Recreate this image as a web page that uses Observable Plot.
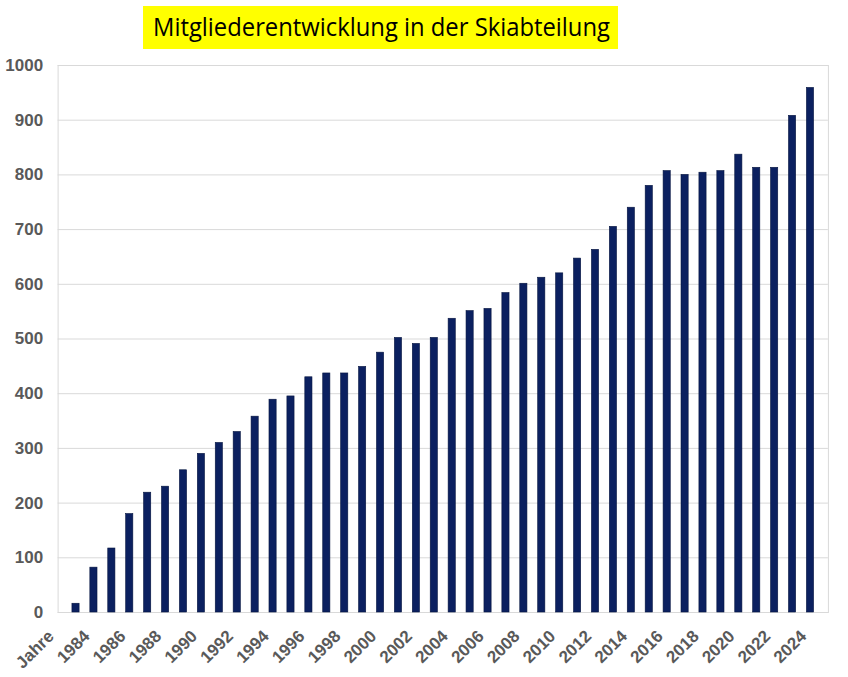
<!DOCTYPE html>
<html><head><meta charset="utf-8">
<script src="https://cdn.jsdelivr.net/npm/d3@7"></script>
<script src="https://cdn.jsdelivr.net/npm/@observablehq/plot@0.6"></script>
<style>
html,body{margin:0;padding:0;background:#fff;overflow:hidden;width:848px;height:677px}
#head{display:block}
#chart svg{display:block}
</style></head><body>
<svg id="head" width="848" height="52">
  <rect x="143" y="6" width="475" height="43" fill="#ffff00"></rect>
  <text x="153" y="36" font-family="'Open Sans', sans-serif" font-size="25" fill="#000" textLength="457" lengthAdjust="spacingAndGlyphs">Mitgliederentwicklung in der Skiabteilung</text>
</svg>
<div id="chart"></div>
<script>
const years = [1983,1984,1985,1986,1987,1988,1989,1990,1991,1992,1993,1994,1995,1996,1997,1998,1999,2000,2001,2002,2003,2004,2005,2006,2007,2008,2009,2010,2011,2012,2013,2014,2015,2016,2017,2018,2019,2020,2021,2022,2023,2024];
const members = [16,82,117,180,219,230,260,290,310,330,358,389,395,430,437,437,449,475,502,491,502,537,551,555,584,601,612,620,647,663,705,740,780,807,800,804,807,837,813,813,908,959];
const xTickValues = [1982,1984,1986,1988,1990,1992,1994,1996,1998,2000,2002,2004,2006,2008,2010,2012,2014,2016,2018,2020,2022,2024];
const xTickLabels = ["Jahre","1984","1986","1988","1990","1992","1994","1996","1998","2000","2002","2004","2006","2008","2010","2012","2014","2016","2018","2020","2022","2024"];
const yTicks = [0,100,200,300,400,500,600,700,800,900,1000];

const data = years.map((year, i) => ({year, members: members[i]}));

const chart = Plot.plot({
  width: 848,
  height: 625,
  marginLeft: 57.6,
  marginRight: 20.1,
  marginTop: 13,
  marginBottom: 65,
  style: {fontFamily: "'Liberation Sans', Arial, sans-serif", fontSize: "17px", fontWeight: "bold", color: "#595959", background: "#fff"},
  x: {type: "linear", domain: [1982, 2025], axis: null},
  y: {domain: [0, 1000], axis: null},
  marks: [
    Plot.gridY(yTicks, {stroke: "#d9d9d9", strokeOpacity: 1}),
    Plot.frame({stroke: "#d9d9d9"}),
    Plot.rect(data, {x1: d => d.year - 0.2, x2: d => d.year + 0.2, y1: 0, y2: "members", fill: "#0b2060", stroke: "#061540", strokeWidth: 0.6}),
    Plot.axisY(yTicks, {tickSize: 0, tickPadding: 15, fill: "#595959", label: null, tickFormat: d => String(d)}),
    Plot.axisX(xTickValues, {tickSize: 0, tickPadding: 21, dx: -7, tickRotate: -45, fill: "#595959", label: null,
      tickFormat: d => xTickLabels[xTickValues.indexOf(d)]})
  ]
});
document.getElementById("chart").appendChild(chart);
</script>
</body></html>
